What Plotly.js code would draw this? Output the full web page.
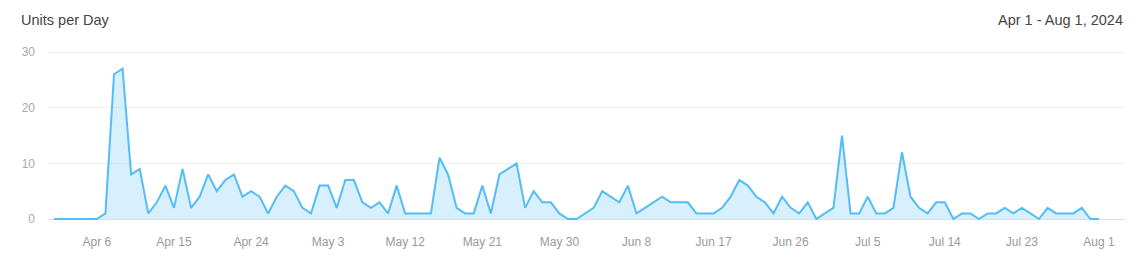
<!DOCTYPE html>
<html>
<head>
<meta charset="utf-8">
<script src="https://cdn.plot.ly/plotly-3.0.1.min.js"></script>
<style>html,body{margin:0;padding:0;background:#fff;}#chart{width:1142px;height:272px;}</style>
</head>
<body>
<div id="chart"></div>
<script>
// Daily units, Apr 1 – Aug 1, 2024
const startDate = '2024-04-01';
const units = [
  0,0,0,0,0,0,1,26,27,8, 9,1,3,6,2,9,2,4,8,5,
  7,8,4,5,4,1,4,6,5,2, 1,6,6,2,7,7,3,2,3,1,
  6,1,1,1,1,11,8,2,1,1, 6,1,8,9,10,2,5,3,3,1,
  0,0,1,2,5,4,3,6,1,2, 3,4,3,3,3,1,1,1,2,4,
  7,6,4,3,1,4,2,1,3,0, 1,2,15,1,1,4,1,1,2,12,
  4,2,1,3,3,0,1,1,0,1, 1,2,1,2,1,0,2,1,1,1,
  2,0,0
];
const tickDates = ['2024-04-06','2024-04-15','2024-04-24','2024-05-03','2024-05-12','2024-05-21','2024-05-30','2024-06-08','2024-06-17','2024-06-26','2024-07-05','2024-07-14','2024-07-23','2024-08-01'];
const tickLabels = ['Apr 6','Apr 15','Apr 24','May 3','May 12','May 21','May 30','Jun 8','Jun 17','Jun 26','Jul 5','Jul 14','Jul 23','Aug 1'];
const yTicks = [0, 10, 20, 30];
const chartTitle = 'Units per Day';
const rangeLabel = 'Apr 1 - Aug 1, 2024';

const dates = units.map((_, i) => {
  const d = new Date(startDate + 'T00:00:00Z');
  d.setUTCDate(d.getUTCDate() + i);
  return d.toISOString().slice(0, 10);
});

const font = 'Liberation Sans, Arial, sans-serif';

Plotly.newPlot('chart', [{
  x: dates,
  y: units,
  type: 'scatter',
  mode: 'lines',
  line: {color: '#55bdf5', width: 2},
  fill: 'tozeroy',
  fillcolor: 'rgba(90,190,245,0.24)',
  hoverinfo: 'x+y'
}], {
  width: 1142, height: 272,
  margin: {l: 48, r: 17, t: 50, b: 51},
  paper_bgcolor: '#fff', plot_bgcolor: '#fff',
  showlegend: false,
  font: {family: font, color: '#999', size: 12},
  title: {text: chartTitle, x: 21/1142, xanchor: 'left', xref: 'container', y: 1 - 20/272, yanchor: 'middle', yref: 'container', font: {family: font, size: 14.5, color: '#444'}},
  annotations: [{
    text: rangeLabel, xref: 'paper', yref: 'paper', x: 1, y: (221 - 20) / 171,
    xanchor: 'right', yanchor: 'middle', showarrow: false,
    font: {family: font, size: 14.5, color: '#444'}
  }],
  xaxis: {
    type: 'date',
    range: ['2024-03-31 07:00', '2024-08-04 01:00'],
    tickvals: tickDates, ticktext: tickLabels,
    showgrid: false, zeroline: false, showline: false, ticks: '',
    ticklabelstandoff: 12,
    tickfont: {family: font, size: 12, color: '#9a9a9a'}
  },
  yaxis: {
    range: [-0.36, 30.36],
    tickvals: yTicks,
    showgrid: true, gridcolor: '#f1f1f1', gridwidth: 1,
    zeroline: true, zerolinecolor: '#dedede', zerolinewidth: 1,
    showline: false, ticks: '',
    ticklabelstandoff: 12,
    tickfont: {family: font, size: 12, color: '#aaa'}
  }
}, {displayModeBar: false, staticPlot: true});
</script>
</body>
</html>
